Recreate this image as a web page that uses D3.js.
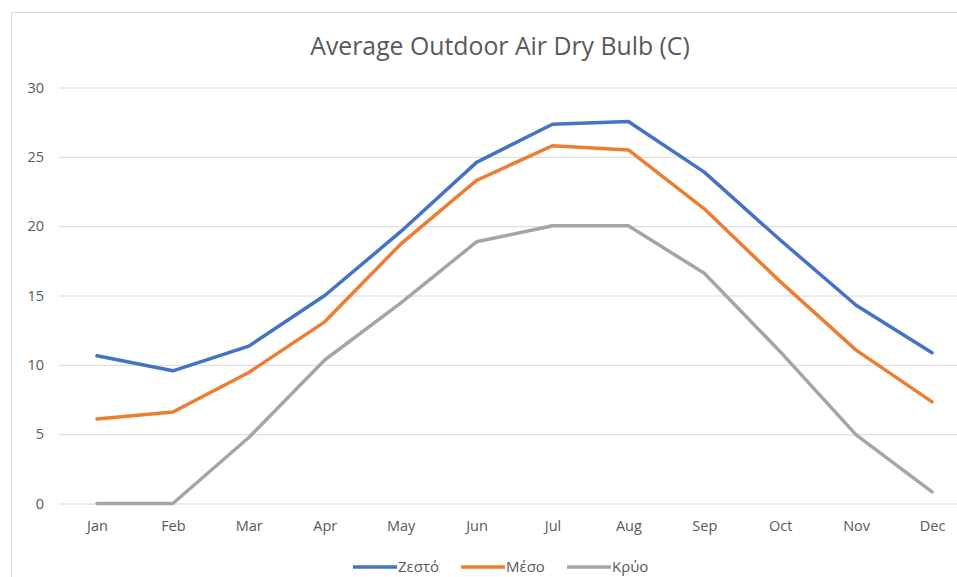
<!DOCTYPE html>
<html>
<head>
<meta charset="utf-8">
<script src="https://cdn.jsdelivr.net/npm/d3@7"></script>
<style>
  body { margin: 0; background: #fff; }
  text { font-family: "Open Sans", "Noto Sans", sans-serif; fill: #595959; }
</style>
</head>
<body>
<div class="canvas"></div>
<script>
const months = ['Jan', 'Feb', 'Mar', 'Apr', 'May', 'Jun', 'Jul', 'Aug', 'Sep', 'Oct', 'Nov', 'Dec']
const yTicks = [0, 5, 10, 15, 20, 25, 30]
const zesto = [10.65, 9.57, 11.35, 15.0, 19.6, 24.6, 27.35, 27.55, 23.9, 19.0, 14.3, 10.87]
const meso = [6.1, 6.6, 9.45, 13.1, 18.7, 23.3, 25.8, 25.5, 21.25, 16.0, 11.06, 7.33]
const kryo = [0, 0, 4.76, 10.35, 14.45, 18.87, 20.03, 20.03, 16.6, 10.95, 4.95, 0.84]
const seriesNames = ['Ζεστό', 'Μέσο', 'Κρύο']
const seriesColors = ['#4472C4', '#ED7D31', '#A5A5A5']

const series = [zesto, meso, kryo].map((vals, i) => ({
  name: seriesNames[i],
  color: seriesColors[i],
  values: vals.map((v, j) => ({month: months[j], value: v}))
}))

const width = 957, height = 577

const svg = d3.select('.canvas')
              .append('svg')
              .attr('width', width)
              .attr('height', height)

// chart area border (only top and left visible in the crop)
svg.append('rect')
   .attr('x', 11.5).attr('y', 12.5)
   .attr('width', 1000).attr('height', 700)
   .attr('fill', 'none')
   .attr('stroke', '#d9d9d9')

const x = d3.scalePoint().domain(months).range([59, 970]).padding(0.5)
const y = d3.scaleLinear().domain([0, 30]).range([503.5, 87.5])

// title
svg.append('text')
   .attr('x', 500).attr('y', 55)
   .attr('text-anchor', 'middle')
   .attr('font-size', 24.8)
   .text('Average Outdoor Air Dry Bulb (C)')

// gridlines
const yAxis = svg.append('g')
  .attr('transform', 'translate(58,0)')
  .call(d3.axisLeft(y).tickValues(yTicks).tickSize(-(width - 58)).tickPadding(14))
yAxis.select('.domain').remove()
yAxis.selectAll('.tick line').attr('stroke', '#d9d9d9')
yAxis.selectAll('.tick text').attr('font-size', 14.5).attr('fill', '#595959')

const xAxis = svg.append('g')
  .attr('transform', `translate(0,${y(0)})`)
  .call(d3.axisBottom(x).tickSize(0).tickPadding(17))
xAxis.select('.domain').remove()
xAxis.selectAll('.tick text').attr('font-size', 14.5).attr('fill', '#595959')

const line = d3.line().x(d => x(d.month)).y(d => y(d.value))

svg.append('g').selectAll('path')
   .data(series.slice().reverse())
   .enter()
   .append('path')
   .attr('d', d => line(d.values))
   .attr('fill', 'none')
   .attr('stroke', d => d.color)
   .attr('stroke-width', 3.5)
   .attr('stroke-linejoin', 'round')
   .attr('stroke-linecap', 'round')

// legend
const legendX = [353, 461, 567]
const legend = svg.append('g').selectAll('g')
  .data(series)
  .enter()
  .append('g')
  .attr('transform', (d, i) => `translate(${legendX[i]},567)`)

legend.append('line')
  .attr('x1', 0).attr('x2', 44)
  .attr('stroke', d => d.color)
  .attr('stroke-width', 3.5)
legend.append('text')
  .attr('x', 45).attr('y', 5)
  .attr('font-size', 15)
  .text(d => d.name)
</script>
</body>
</html>
